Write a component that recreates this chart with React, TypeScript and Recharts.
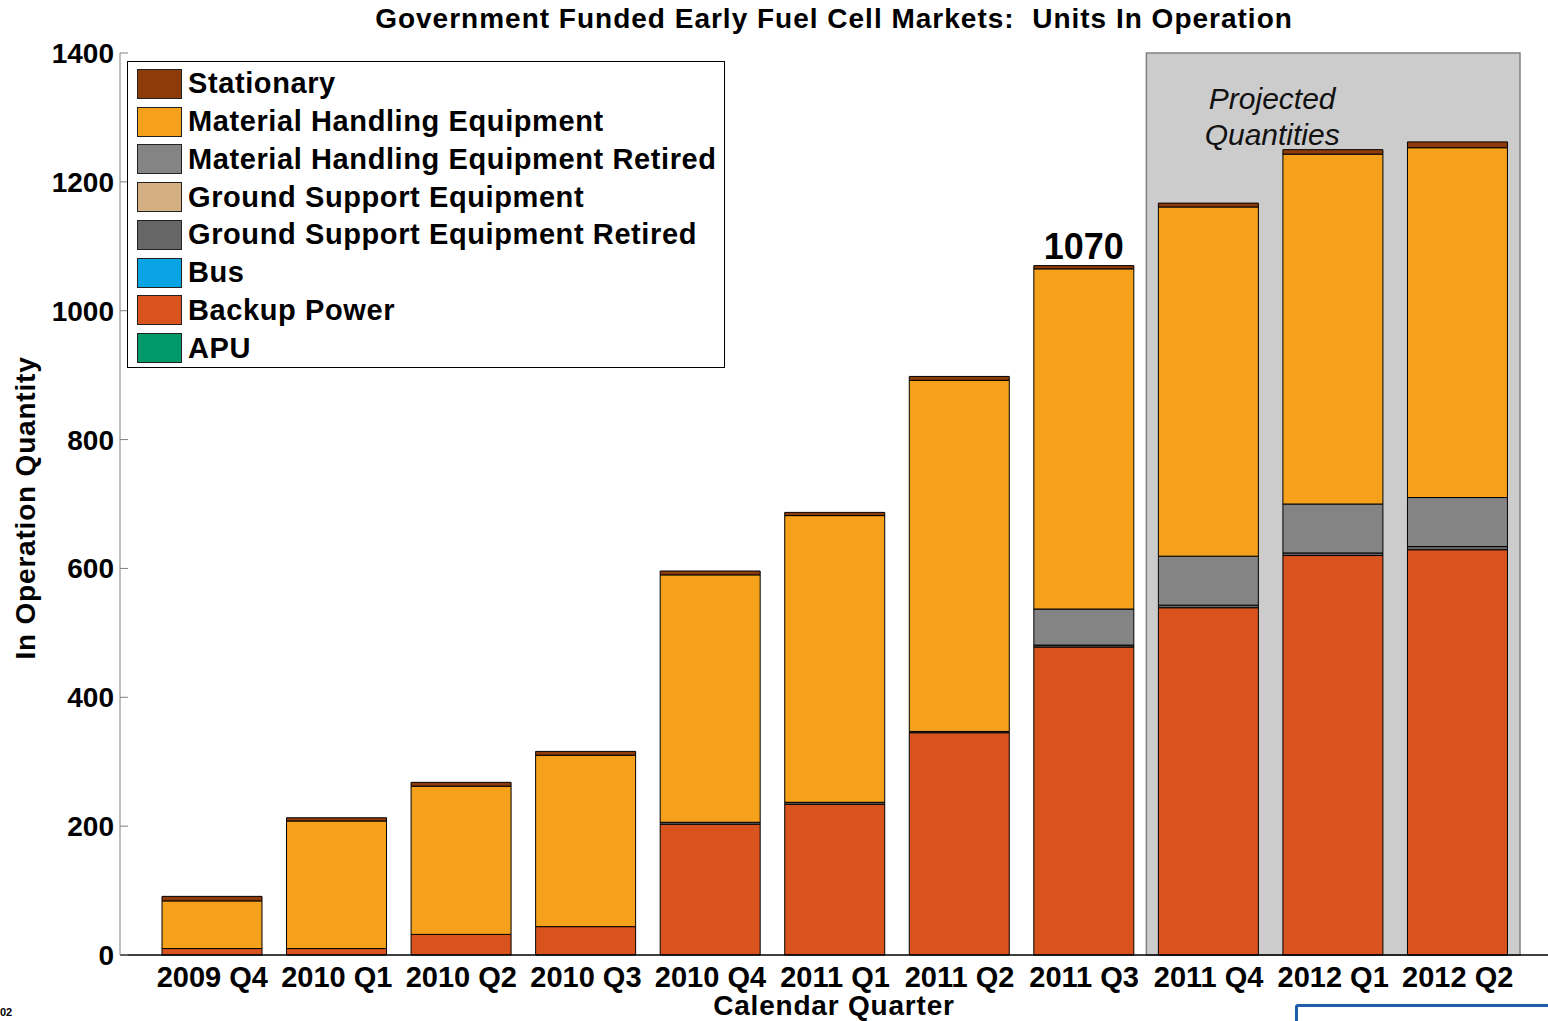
import { Bar, BarChart, LabelList, Legend, ReferenceArea, XAxis, YAxis } from 'recharts';

const quarters = [
  '2009 Q4', '2010 Q1', '2010 Q2', '2010 Q3', '2010 Q4', '2011 Q1',
  '2011 Q2', '2011 Q3', '2011 Q4', '2012 Q1', '2012 Q2',
];

// stacked bottom to top
const apu = [0, 0, 0, 0, 0, 0, 0, 0, 0, 0, 0];
const backupPower = [10, 10, 32, 44, 203, 234, 345, 478, 539, 620, 629];
const bus = [0, 0, 0, 0, 0, 0, 0, 0, 0, 0, 0];
const gseRetired = [0, 0, 0, 0, 3, 3, 2, 3, 4, 4, 5];
const gse = [0, 0, 0, 0, 0, 0, 0, 0, 0, 0, 0];
const mheRetired = [0, 0, 0, 0, 0, 0, 0, 56, 76, 76, 76];
const mhe = [74, 198, 230, 266, 384, 445, 545, 528, 542, 543, 543];
const stationary = [7, 5, 6, 6, 6, 5, 6, 5, 6, 7, 9];
const topLabels = ['', '', '', '', '', '', '', '1070', '', '', ''];

const yTicks = [0, 200, 400, 600, 800, 1000, 1200, 1400];

const series = [
  { key: 'apu', name: 'APU', color: '#009A6A', values: apu },
  { key: 'backup', name: 'Backup Power', color: '#D9531F', values: backupPower },
  { key: 'bus', name: 'Bus', color: '#0AA3E3', values: bus },
  { key: 'gseRetired', name: 'Ground Support Equipment Retired', color: '#666666', values: gseRetired },
  { key: 'gse', name: 'Ground Support Equipment', color: '#D4AF82', values: gse },
  { key: 'mheRetired', name: 'Material Handling Equipment Retired', color: '#848484', values: mheRetired },
  { key: 'mhe', name: 'Material Handling Equipment', color: '#F5A11C', values: mhe },
  { key: 'stationary', name: 'Stationary', color: '#8E3B0A', values: stationary },
];

const data = quarters.map((q, i) => {
  const row: Record<string, string | number> = { quarter: q, top: topLabels[i] };
  series.forEach((s) => {
    row[s.key] = s.values[i];
  });
  return row;
});

const FONT = '"Liberation Sans", Arial, sans-serif';

const YTick = (props: any) => {
  const { x, y, payload } = props;
  return (
    <g>
      <line x1={120} x2={128} y1={y} y2={y} stroke="#808080" />
      <text x={x + 2} y={y} dy={10} textAnchor="end" fontSize={28} fontWeight="bold" fill="#000" fontFamily={FONT}>
        {payload.value}
      </text>
    </g>
  );
};

const renderLegend = () => (
  <div
    style={{
      width: 598,
      height: 307,
      boxSizing: 'border-box',
      border: '1px solid #000',
      background: '#fff',
      paddingTop: 3,
      fontFamily: FONT,
    }}
  >
    {[...series].reverse().map((s) => (
      <div key={s.key} style={{ height: 37.75, display: 'flex', alignItems: 'center' }}>
        <div
          style={{
            marginLeft: 9,
            width: 45,
            height: 30,
            boxSizing: 'border-box',
            border: '1px solid #222',
            background: s.color,
          }}
        />
        <span
          style={{
            marginLeft: 6,
            fontSize: 29,
            fontWeight: 'bold',
            letterSpacing: 0.6,
            color: '#000',
            whiteSpace: 'nowrap',
          }}
        >
          {s.name}
        </span>
      </div>
    ))}
  </div>
);

const projectedLabel = (props: any) => {
  const { viewBox } = props;
  const cx = viewBox.x + viewBox.width / 2 - 61;
  return (
    <g>
      <text x={cx} y={109} textAnchor="middle" fontSize={30} fontStyle="italic" fill="#111" fontFamily={FONT}>
        Projected
      </text>
      <text x={cx} y={145} textAnchor="middle" fontSize={30} fontStyle="italic" fill="#111" fontFamily={FONT}>
        Quantities
      </text>
    </g>
  );
};

export default function App() {
  return (
    <div
      style={{
        position: 'absolute',
        left: 0,
        top: 0,
        width: 1548,
        height: 1021,
        overflow: 'hidden',
        background: '#fff',
        fontFamily: FONT,
      }}
    >
      <div
        style={{
          position: 'absolute',
          top: 3,
          left: 120,
          width: 1428,
          textAlign: 'center',
          fontSize: 28,
          letterSpacing: 1,
          fontWeight: 'bold',
          whiteSpace: 'pre',
        }}
      >
        {'Government Funded Early Fuel Cell Markets:  Units In Operation'}
      </div>
      <BarChart
        width={1548}
        height={1021}
        data={data}
        margin={{ top: 53, right: 0, bottom: 0, left: 0 }}
        barSize={100}
      >
        <ReferenceArea
          x1="2011 Q4"
          x2="2012 Q2"
          y1={0}
          y2={1400}
          fill="#CCCCCC"
          fillOpacity={1}
          stroke="#808080"
          strokeWidth={1.5}
          label={projectedLabel}
        />
        <XAxis
          dataKey="quarter"
          padding={{ left: 30, right: 28 }}
          height={66}
          tickLine={false}
          tickMargin={5}
          axisLine={{ stroke: '#000', strokeWidth: 1.5 }}
          tick={{ fontSize: 29, fontWeight: 'bold', fill: '#000', fontFamily: FONT }}
          interval={0}
        />
        <YAxis
          width={120}
          domain={[0, 1400]}
          ticks={yTicks}
          tickLine={false}
          axisLine={{ stroke: '#808080' }}
          tick={<YTick />}
          interval={0}
        />
        <Legend
          layout="horizontal"
          verticalAlign="middle"
          align="center"
          content={renderLegend}
          wrapperStyle={{ position: 'absolute', left: 127, top: 61, width: 598, height: 307 }}
        />
        {series.map((s) => (
          <Bar
            key={s.key}
            dataKey={s.key}
            name={s.name}
            stackId="units"
            fill={s.color}
            stroke="#000"
            strokeWidth={1}
            isAnimationActive={false}
          >
            {s.key === 'stationary' && (
              <LabelList
                dataKey="top"
                position="top"
                offset={7}
                fontSize={36}
                fontWeight="bold"
                fill="#000"
                fontFamily={FONT}
              />
            )}
          </Bar>
        ))}
      </BarChart>
      <div
        style={{
          position: 'absolute',
          left: 26,
          top: 508,
          transform: 'translate(-50%, -50%) rotate(-90deg)',
          fontSize: 28,
          letterSpacing: 0.8,
          fontWeight: 'bold',
          whiteSpace: 'nowrap',
        }}
      >
        In Operation Quantity
      </div>
      <div
        style={{
          position: 'absolute',
          top: 992,
          left: 120,
          width: 1428,
          height: 28,
          lineHeight: '28px',
          textAlign: 'center',
          fontSize: 28,
          letterSpacing: 0.8,
          fontWeight: 'bold',
        }}
      >
        Calendar Quarter
      </div>
      <div style={{ position: 'absolute', left: 0, top: 1006, fontSize: 11, lineHeight: '13px', fontWeight: 'bold' }}>
        02
      </div>
      <div
        style={{
          position: 'absolute',
          left: 1295,
          top: 1004,
          width: 300,
          height: 60,
          border: '3px solid #1F5DAA',
          borderTopLeftRadius: 3,
        }}
      />
    </div>
  );
}
